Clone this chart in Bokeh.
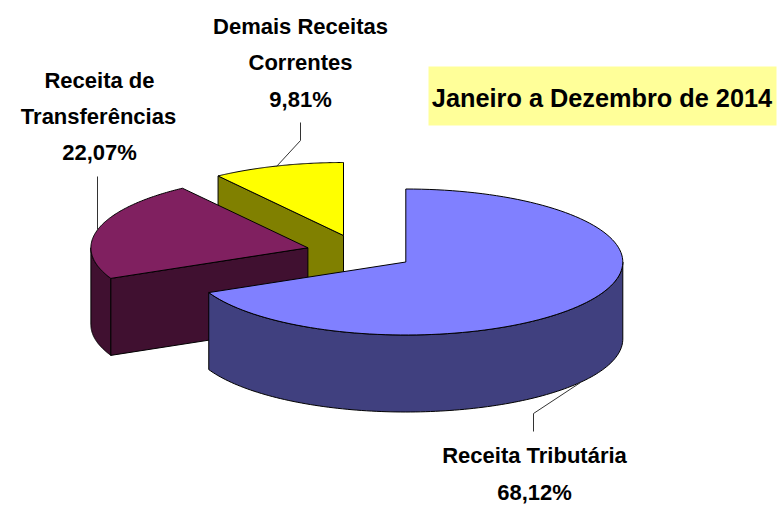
import numpy as np
from bokeh.plotting import figure
from bokeh.models import Range1d
from bokeh.core.properties import value
from bokeh.embed import file_html
from bokeh.resources import INLINE

# Data
categories = ["Receita Tributária", "Receita de Transferências", "Demais Receitas Correntes"]
shares = [68.12, 22.07, 9.81]
share_labels = ["68,12%", "22,07%", "9,81%"]
title_text = "Janeiro a Dezembro de 2014"

# Styling / layout
top_colors = ["#8080FF", "#802060", "#FFFF00"]
side_colors = ["#40407F", "#401030", "#808000"]
centers = [(405.3, 261.5), (307.4, 247.3), (343.0, 235.0)]
RX, RY, DEPTH = 217.0, 73.0, 77.0
FONT = value("Liberation Sans")
FS = "22px"

W, H = 778, 507
p = figure(width=W, height=H, output_backend="svg", toolbar_location=None,
           x_range=Range1d(0, W), y_range=Range1d(H, 0),
           min_border=0, outline_line_color=None, background_fill_color="white")
p.axis.visible = False
p.grid.visible = False
p.xaxis.visible = False
p.yaxis.visible = False


def pt(c, t):
    return c[0] + RX * np.sin(t), c[1] - RY * np.cos(t)


def arc(c, a, b):
    t = np.linspace(a, b, 120)
    return pt(c, t)


fr = np.array(shares) / sum(shares) * 2 * np.pi
edges = np.concatenate([[0], np.cumsum(fr)])
spans = list(zip(edges[:-1], edges[1:]))


def draw(xs, ys, color):
    p.patch(list(xs), list(ys), fill_color=color, line_color="black", line_width=1)


def radial_face(c, t, color):
    x0, y0 = pt(c, t)
    draw([x0, c[0], c[0], x0], [y0, c[1], c[1] + DEPTH, y0 + DEPTH], color)


def outer_face(c, a, b, color):
    x, y = arc(c, a, b)
    draw(np.r_[x, x[::-1]], np.r_[y, y[::-1] + DEPTH], color)


def top_face(c, a, b, color):
    x, y = arc(c, a, b)
    draw(np.r_[c[0], x], np.r_[c[1], y], color)


# back to front: yellow, purple, blue
a, b = spans[2]
radial_face(centers[2], a, side_colors[2])
top_face(centers[2], a, b, top_colors[2])

a, b = spans[1]
outer_face(centers[1], a, 1.5 * np.pi, side_colors[1])
radial_face(centers[1], a, side_colors[1])
top_face(centers[1], a, b, top_colors[1])

a, b = spans[0]
outer_face(centers[0], 0.5 * np.pi, b, side_colors[0])
top_face(centers[0], a, b, top_colors[0])

# leader lines
p.line([300, 300, 276], [122, 140, 166], line_color="#333333", line_width=1)
p.line([97, 97], [176, 229], line_color="#333333", line_width=1)
p.line([580, 533, 533], [382, 413, 431], line_color="#333333", line_width=1)

# title box
p.quad(left=[428], right=[776], top=[66], bottom=[125], fill_color="#FFFF99", line_color=None)


def label(x, y, t, size=FS):
    p.text([x], [y], text=[t], text_font=FONT, text_font_size=value(size), text_font_style="bold",
           text_align="center", text_baseline="middle", text_color="black")


label(601.5, 97, title_text, "25.3px")
label(300, 26, "Demais Receitas")
label(300, 62, "Correntes")
label(300, 99, share_labels[2])
label(99, 80, "Receita de")
label(98, 116, "Transferências")
label(99, 152, share_labels[1])
label(534, 455, categories[0])
label(534, 492, share_labels[0])

open("out.html", "w").write(file_html(p, INLINE))
